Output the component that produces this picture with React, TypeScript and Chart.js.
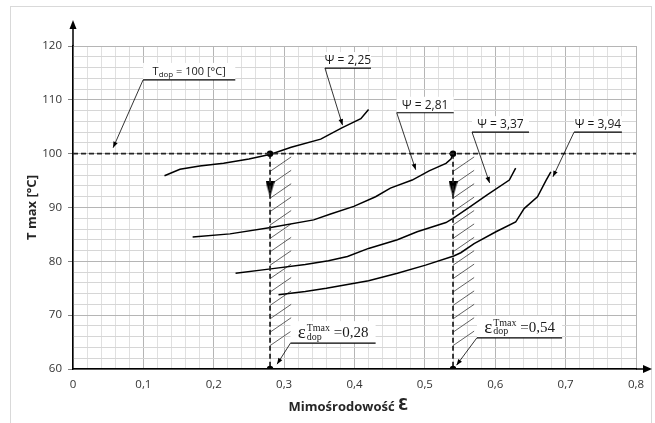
import React, { useEffect, useRef } from 'react';
import { Chart, registerables } from 'chart.js';

Chart.register(...registerables);

// ---------- data ----------
const xTickLabels = ['0', '0,1', '0,2', '0,3', '0,4', '0,5', '0,6', '0,7', '0,8'];
const yTickLabels = ['60', '70', '80', '90', '100', '110', '120'];

const psiValues = ['2,25', '2,81', '3,37', '3,94'];

const psi225: [number, number][] = [
  [0.13, 95.9], [0.152, 97.1], [0.18, 97.7], [0.214, 98.2], [0.25, 99.0], [0.281, 99.9],
  [0.31, 101.2], [0.352, 102.7], [0.382, 104.8], [0.409, 106.5], [0.42, 108.2],
];
const psi281: [number, number][] = [
  [0.17, 84.5], [0.223, 85.1], [0.281, 86.3], [0.342, 87.7], [0.366, 88.8], [0.399, 90.2],
  [0.43, 92.0], [0.451, 93.6], [0.482, 95.1], [0.506, 96.8], [0.53, 98.2], [0.537, 99.0], [0.54, 99.9],
];
const psi337: [number, number][] = [
  [0.231, 77.8], [0.281, 78.6], [0.33, 79.4], [0.363, 80.1], [0.39, 80.9], [0.42, 82.4],
  [0.461, 84.0], [0.489, 85.5], [0.53, 87.2], [0.54, 88.0], [0.565, 90.2], [0.589, 92.4],
  [0.62, 95.1], [0.629, 97.3],
];
const psi394: [number, number][] = [
  [0.292, 73.8], [0.33, 74.4], [0.36, 75.0], [0.39, 75.7], [0.42, 76.4], [0.461, 77.8],
  [0.501, 79.3], [0.541, 81.0], [0.551, 81.6], [0.57, 83.3], [0.601, 85.5], [0.629, 87.3],
  [0.641, 89.8], [0.66, 92.0], [0.672, 95.0], [0.679, 96.6],
];

const tDop = 100;
const epsDop = [0.28, 0.54];
const epsDopLabels = ['0,28', '0,54'];
const arrowMarkY = 93.4;

// hatch region (data units)
const hatchWidthX = 0.03;
const hatchTopY = 96.7;
const hatchBottomY = 64;

// ---------- styles ----------
const SANS = '"Open Sans", "Liberation Sans", sans-serif';
const SERIF = '"Liberation Serif", "DejaVu Serif", serif';
const sans11 = `11px ${SANS}`;
const sans12 = `12px ${SANS}`;
const sans8 = `8px ${SANS}`;

type Part = { t?: string; f: string; dy?: number; sup?: string; sub?: string };

const epsParts = (val: string): Part[] => [
  { t: 'ε', f: `19px ${SERIF}`, dy: 0 },
  { sup: 'Tmax', sub: 'dop', f: `10px ${SERIF}` },
  { t: ' =' + val, f: `15px ${SERIF}` },
];

const callouts = [
  { parts: [{ t: 'T', f: sans11 }, { t: 'dop', f: sans8, dy: 3 }, { t: ' = ' + tDop + ' [°C]', f: sans11 }] as Part[],
    x0: 0.0996, x1: 0.2306, y: 113.7, tipX: 0.057, tipY: 101.1, boxH: 17, dy: -8 },
  { parts: [{ t: 'Ψ = ' + psiValues[0], f: sans12 }], x0: 0.358, x1: 0.4235, y: 115.9, tipX: 0.383, tipY: 105.3, boxH: 16, dy: -7.5 },
  { parts: [{ t: 'Ψ = ' + psiValues[1], f: sans12 }], x0: 0.46, x1: 0.541, y: 107.6, tipX: 0.487, tipY: 97.0, boxH: 16, dy: -7.5 },
  { parts: [{ t: 'Ψ = ' + psiValues[2], f: sans12 }], x0: 0.567, x1: 0.648, y: 104.0, tipX: 0.592, tipY: 94.55, boxH: 16, dy: -7.5 },
  { parts: [{ t: 'Ψ = ' + psiValues[3], f: sans12 }], x0: 0.712, x1: 0.78, y: 104.0, tipX: 0.682, tipY: 95.7, boxH: 16, dy: -7.5 },
  { parts: epsParts(epsDopLabels[0]), x0: 0.309, x1: 0.43, y: 64.8, tipX: 0.29, tipY: 60.9, boxH: 22, dy: -10 },
  { parts: epsParts(epsDopLabels[1]), x0: 0.574, x1: 0.695, y: 65.8, tipX: 0.545, tipY: 60.7, boxH: 22, dy: -10 },
];

function drawParts(ctx: CanvasRenderingContext2D, parts: Part[], cx: number, cy: number) {
  ctx.textBaseline = 'middle';
  ctx.textAlign = 'left';
  const widths = parts.map((p) => {
    ctx.font = p.f;
    if (p.sup !== undefined) return Math.max(ctx.measureText(p.sup).width, ctx.measureText(p.sub || '').width) + 1;
    return ctx.measureText(p.t || '').width;
  });
  const total = widths.reduce((a, b) => a + b, 0);
  let x = cx - total / 2;
  parts.forEach((p, i) => {
    ctx.font = p.f;
    if (p.sup !== undefined) {
      ctx.fillText(p.sup, x + 1, cy - 4.5);
      ctx.fillText(p.sub || '', x + 1, cy + 4);
    } else {
      ctx.fillText(p.t || '', x, cy + (p.dy || 0));
    }
    x += widths[i];
  });
}

function arrowHead(ctx: CanvasRenderingContext2D, fx: number, fy: number, tx: number, ty: number, len: number, half: number) {
  const a = Math.atan2(ty - fy, tx - fx);
  ctx.beginPath();
  ctx.moveTo(tx, ty);
  ctx.lineTo(tx - len * Math.cos(a) + half * Math.sin(a), ty - len * Math.sin(a) - half * Math.cos(a));
  ctx.lineTo(tx - len * Math.cos(a) - half * Math.sin(a), ty - len * Math.sin(a) + half * Math.cos(a));
  ctx.closePath();
  ctx.fill();
}

const decorPlugin = {
  id: 'decor',
  beforeDraw(chart: any) {
    const ctx = chart.ctx as CanvasRenderingContext2D;
    ctx.save();
    ctx.strokeStyle = '#d9d9d9';
    ctx.lineWidth = 1;
    ctx.strokeRect(10.5, 6.5, 641, 440);
    ctx.restore();
  },
  beforeDatasetsDraw(chart: any) {
    const ctx = chart.ctx as CanvasRenderingContext2D;
    const xs = chart.scales.x;
    const ys = chart.scales.y;
    ctx.save();
    ctx.strokeStyle = '#3a3a3a';
    ctx.lineWidth = 0.8;
    epsDop.forEach((e) => {
      const px0 = xs.getPixelForValue(e);
      const px1 = xs.getPixelForValue(e + hatchWidthX);
      const top = ys.getPixelForValue(hatchTopY);
      const bottom = ys.getPixelForValue(hatchBottomY);
      const rise = 14.5;
      ctx.beginPath();
      for (let py = top; py <= bottom + 0.5; py += 13.4) {
        ctx.moveTo(px0, py);
        ctx.lineTo(px1, py - rise);
      }
      ctx.stroke();
    });
    ctx.restore();
  },
  afterDatasetsDraw(chart: any) {
    const ctx = chart.ctx as CanvasRenderingContext2D;
    const xs = chart.scales.x;
    const ys = chart.scales.y;
    const area = chart.chartArea;
    ctx.save();
    // axis arrows
    ctx.strokeStyle = '#000';
    ctx.fillStyle = '#000';
    ctx.lineWidth = 1.5;
    ctx.beginPath();
    ctx.moveTo(area.left, area.top);
    ctx.lineTo(area.left, area.top - 20);
    ctx.moveTo(area.right, area.bottom);
    ctx.lineTo(area.right + 10, area.bottom);
    ctx.stroke();
    ctx.beginPath();
    ctx.moveTo(area.left, area.top - 26);
    ctx.lineTo(area.left - 3.5, area.top - 17);
    ctx.lineTo(area.left + 3.5, area.top - 17);
    ctx.closePath();
    ctx.fill();
    ctx.beginPath();
    ctx.moveTo(area.right + 16, area.bottom);
    ctx.lineTo(area.right + 7, area.bottom - 4);
    ctx.lineTo(area.right + 7, area.bottom + 4);
    ctx.closePath();
    ctx.fill();

    // callouts
    callouts.forEach((c) => {
      const x0 = xs.getPixelForValue(c.x0);
      const x1 = xs.getPixelForValue(c.x1);
      const y = ys.getPixelForValue(c.y);
      const tx = xs.getPixelForValue(c.tipX);
      const ty = ys.getPixelForValue(c.tipY);
      ctx.fillStyle = '#ffffff';
      ctx.fillRect(x0, y - c.boxH, x1 - x0, c.boxH);
      ctx.strokeStyle = '#000';
      ctx.lineWidth = 1.2;
      ctx.beginPath();
      ctx.moveTo(x0, y);
      ctx.lineTo(x1, y);
      ctx.stroke();
      ctx.lineWidth = 0.8;
      ctx.beginPath();
      ctx.moveTo(x0, y);
      ctx.lineTo(tx, ty);
      ctx.stroke();
      ctx.fillStyle = '#000';
      arrowHead(ctx, x0, y, tx, ty, 6, 2.3);
      ctx.fillStyle = '#1a1a1a';
      drawParts(ctx, c.parts, (x0 + x1) / 2, y + c.dy);
    });

    // x axis title
    ctx.fillStyle = '#262626';
    drawParts(ctx, [
      { t: 'Mimośrodowość ', f: `bold 13px ${SANS}` },
      { t: 'Ɛ', f: `bold 15px "DejaVu Sans", sans-serif`, dy: -1 },
    ], (area.left + area.right) / 2 - 6, 407);
    ctx.restore();
  },
};

function makeArrowMark(): HTMLCanvasElement {
  const c = document.createElement('canvas');
  c.width = 9;
  c.height = 16;
  const g = c.getContext('2d')!;
  g.fillStyle = '#000';
  g.beginPath();
  g.moveTo(0, 0);
  g.lineTo(9, 0);
  g.lineTo(4.5, 16);
  g.closePath();
  g.fill();
  return c;
}

export default function App() {
  const ref = useRef<HTMLCanvasElement | null>(null);

  useEffect(() => {
    if (!ref.current) return;
    const toXY = (arr: [number, number][]) => arr.map(([x, y]) => ({ x, y }));
    const curveStyle = {
      borderColor: '#000',
      borderWidth: 1.5,
      pointRadius: 0,
      fill: false,
      tension: 0,
    };
    const dashStyle = {
      borderColor: '#262626',
      borderWidth: 1.8,
      borderDash: [5, 3],
      fill: false,
      tension: 0,
    };
    const arrowMark = makeArrowMark();

    const datasets: any[] = [
      { ...dashStyle, data: [{ x: 0, y: tDop }, { x: 0.8, y: tDop }], pointRadius: 0 },
      ...epsDop.map((e) => ({
        ...dashStyle,
        data: [{ x: e, y: tDop }, { x: e, y: 60 }],
        pointRadius: 3.2,
        pointBackgroundColor: '#000',
        pointBorderColor: '#000',
        pointBorderWidth: 0,
      })),
      {
        data: epsDop.map((e) => ({ x: e, y: arrowMarkY })),
        showLine: false,
        pointStyle: arrowMark,
        pointRadius: 8,
      },
      { ...curveStyle, data: toXY(psi225) },
      { ...curveStyle, data: toXY(psi281) },
      { ...curveStyle, data: toXY(psi337) },
      { ...curveStyle, data: toXY(psi394) },
    ];

    const chart = new Chart(ref.current, {
      type: 'line',
      data: { datasets },
      plugins: [decorPlugin],
      options: {
        animation: false,
        responsive: true,
        maintainAspectRatio: false,
        layout: { padding: { left: 0, right: 19, top: 46, bottom: 0 } },
        plugins: { legend: { display: false }, tooltip: { enabled: false } },
        elements: { point: { hoverRadius: 0 } },
        scales: {
          x: {
            type: 'linear',
            min: 0,
            max: 0.8,
            afterFit: (s: any) => { s.height = 54; },
            afterBuildTicks: (s: any) => {
              s.ticks = Array.from({ length: 41 }, (_, i) => ({ value: i * 0.02 }));
            },
            ticks: {
              autoSkip: false,
              maxRotation: 0,
              padding: 9,
              color: '#333333',
              font: { family: SANS, size: 11.5 },
              callback: (_v: any, i: number) => (i % 5 === 0 ? xTickLabels[i / 5] : ''),
            },
            grid: {
              drawTicks: false,
              color: (c: any) => (c.index % 5 === 0 ? '#b5b5b5' : '#e0e0e0'),
              lineWidth: 1,
            },
            border: { display: true, color: '#000', width: 1.5 },
          },
          y: {
            type: 'linear',
            min: 60,
            max: 120,
            afterFit: (s: any) => { s.width = 73; },
            afterBuildTicks: (s: any) => {
              s.ticks = Array.from({ length: 31 }, (_, i) => ({ value: 60 + i * 2 }));
            },
            ticks: {
              autoSkip: false,
              padding: 6,
              color: '#333333',
              font: { family: SANS, size: 11.5 },
              callback: (_v: any, i: number) => (i % 5 === 0 ? yTickLabels[i / 5] : ''),
            },
            grid: {
              drawTicks: true,
              tickLength: 5,
              color: (c: any) => (c.index % 5 === 0 ? '#b5b5b5' : '#d6d6d6'),
              tickColor: (c: any) => (c.index % 5 === 0 ? '#808080' : 'rgba(0,0,0,0)'),
              lineWidth: 1,
            },
            border: { display: true, color: '#000', width: 1.5 },
            title: {
              display: true,
              text: 'T max [°C]',
              color: '#262626',
              font: { family: SANS, size: 13, weight: 'bold' },
              padding: { top: 24, bottom: 0 },
            },
          },
        },
      } as any,
    });
    return () => chart.destroy();
  }, []);

  return (
    <div style={{ position: 'absolute', left: 0, top: 0, width: 655, height: 423, background: '#fff' }}>
      <canvas ref={ref} />
    </div>
  );
}
